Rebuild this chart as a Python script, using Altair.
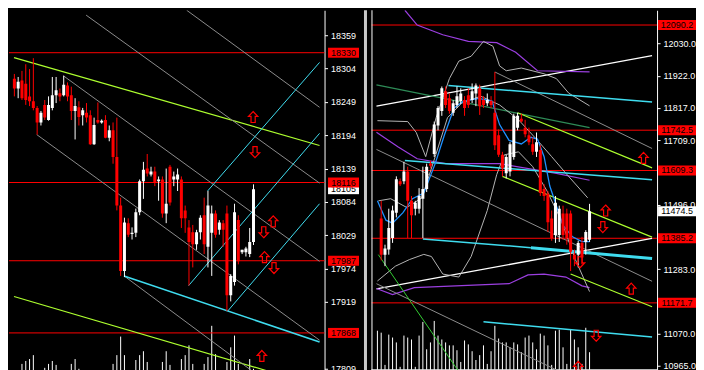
import altair as alt
import pandas as pd

FONT = "Liberation Sans"
W1, W2, H = 316, 286, 362
CY = "#3fdcef"
GY = "#adff2f"
PU = "#9b3fe0"
BG = "#b4b4b4"
GR = "#8c8c8c"

# ---------------- left panel ----------------
L_open = [18287,18271,18284,18279,18258,18250,18239,18215,18244,18219,18239,18260,18263,18260,18276,18260,
          18234,18240,18227,18231,18227,18179,18219,18215,18219,18190,18202,18158,18078,17970,18049,18031,
          18033,18067,18118,18139,18129,18134,18118,18121,18065,18142,18121,18121,18121,18070,18042,18034,
          18014,18034,18062,18010,18033,18065,18038,18049,18065,17930,17952,18054,18001,18001,17998,18018]
L_high = [18295,18290,18300,18311,18303,18321,18242,18234,18252,18258,18290,18290,18271,18292,18281,18274,
          18255,18250,18239,18247,18235,18223,18248,18220,18227,18210,18215,18223,18091,18058,18057,18042,
          18073,18121,18150,18163,18142,18142,18126,18126,18139,18145,18134,18139,18126,18078,18054,18046,
          18038,18062,18091,18102,18078,18070,18054,18054,18078,17965,18081,18062,18005,18010,18041,18113]
L_low = [18258,18255,18252,18244,18242,18235,18195,18210,18219,18218,18235,18247,18250,18258,18250,18219,
         18187,18210,18210,18215,18178,18178,18213,18213,18189,18184,18147,18070,17962,17960,18026,18022,
         18026,18062,18089,18126,18126,18110,18086,18058,18049,18078,18110,18102,18041,18033,17946,17976,
         18005,18022,17998,17976,17962,18025,18030,18010,17904,17920,17946,17981,17998,17994,17993,18013]
L_close = [18271,18282,18255,18252,18250,18239,18215,18231,18223,18244,18260,18268,18258,18277,18258,18234,
           18242,18224,18235,18223,18179,18211,18215,18218,18190,18202,18158,18078,17970,18050,18030,18033,
           18067,18118,18137,18131,18134,18115,18121,18065,18081,18083,18126,18129,18057,18057,18018,18014,
           18034,18058,18014,18078,18065,18030,18050,18038,17930,17962,18067,17986,18005,18007,18018,18105]
L_vol_idx = [2,3,4,5,8,9,10,11,15,16,17,26,27,28,29,32,33,34,35,39,40,41,44,45,46,47,50,51,52,53,56,57,58,59,62,63]
L_vol = [8,11,13,17,4,8,11,7,8,13,3,8,17,36,17,12,17,21,10,10,21,7,13,17,27,8,8,15,47,18,10,25,37,8,13,3]
L_levels = [18330, 18116, 17987, 17868]
L_level_labels = ["18330", "18116", "17987", "17868"]
L_last = [18105]
L_last_label = ["18105"]
L_ticks = [18359, 18304, 18249, 18194, 18139, 18084, 18029, 17974, 17919, 17809]
L_xdom = [-0.1, 80.4]
L_ydom = [17804, 18400]
L_lines = [
    ("g1", [-0.1, 80.4], [18322, 18177], GY, 1.2),
    ("g2", [-0.1, 67.4], [17928, 17804], GY, 1.2),
    ("s1", [18.9, 80.4], [18392, 18115], GR, 1),
    ("s2", [45.4, 80.4], [18400, 18240], GR, 1),
    ("s3", [12.9, 80.4], [18292, 17986], GR, 1),
    ("s4", [5.9, 80.4], [18195, 17856], GR, 1),
    ("s5", [28.9, 62.9], [17962, 17804], GR, 1),
    ("c1", [28.9, 80.4], [17962, 17853], CY, 1.6),
    ("c2", [45.9, 80.4], [17946, 18197], CY, 1),
    ("c3", [50.9, 80.4], [18102, 18314], CY, 1),
    ("c4", [56.2, 80.4], [17904, 18081], CY, 1),
]
L_up_idx = [62.9, 68.2, 65.9, 65.2]
L_up_px = [18224, 18052, 17993, 17830]
L_dn_idx = [63.4, 65.7, 68.4]
L_dn_px = [18166, 18034, 17975]

# ---------------- right panel ----------------
R_open = [11451,11331,11348,11386,11470,11574,11574,11606,11509,11483,
          11483,11516,11548,11632,11664,11758,11806,11871,11848,11800,
          11826,11839,11842,11858,11842,11864,11881,11842,11832,11839,
          11800,11726,11661,11600,11606,11654,11751,11780,11751,11726,
          11696,11671,11677,11548,11532,11451,11396,11396,11467,11467,
          11467,11331,11331,11370,11373,11380]
R_high = [11509,11364,11483,11493,11590,11583,11638,11622,11525,11509,
          11551,11622,11632,11642,11771,11822,11887,11887,11864,11842,
          11887,11881,11855,11881,11897,11897,11893,11855,11864,11855,
          11935,11745,11671,11661,11703,11797,11800,11797,11777,11751,
          11719,11735,11693,11564,11541,11477,11525,11493,11493,11483,
          11477,11348,11377,11390,11412,11499]
R_low = [11312,11293,11331,11370,11454,11558,11564,11386,11386,11461,
         11467,11386,11538,11616,11654,11742,11790,11816,11797,11790,
         11816,11829,11790,11816,11832,11822,11793,11816,11822,11816,
         11677,11654,11590,11583,11590,11645,11742,11768,11719,11693,
         11661,11654,11525,11509,11406,11377,11370,11373,11380,11364,
         11277,11293,11289,11299,11331,11373]
R_close = [11331,11351,11419,11477,11580,11564,11606,11509,11461,11503,
           11525,11548,11622,11625,11761,11816,11881,11826,11806,11832,
           11855,11864,11816,11826,11871,11890,11822,11826,11842,11826,
           11693,11661,11616,11654,11696,11790,11790,11771,11729,11703,
           11671,11703,11535,11525,11438,11386,11503,11483,11396,11386,
           11341,11315,11370,11322,11406,11474.5]
R_vol = [40,38,5,36,33,28,3,35,33,31,3,35,49,21,28,50,35,31,28,25,25,20,8,30,26,19,10,15,25,6,
         19,45,32,28,28,23,28,26,18,33,35,28,21,37,35,25,5,40,41,23,6,41,31,23,6,43,18]
R_levels = [12090.2, 11742.5, 11609.3, 11385.2, 11171.7]
R_level_labels = ["12090.2", "11742.5", "11609.3", "11385.2", "11171.7"]
R_last = [11474.5]
R_last_label = ["11474.5"]
R_ticks = [12030, 11922, 11817, 11709, 11496, 11283, 11070, 10965]
R_xdom = [-1.25, 71.5]
R_ydom = [10944, 12139]
R_lines = [
    ("w1", [-1.25, 71.5], [11822, 11989], "#ffffff", 1.3),
    ("w2", [-1.25, 71.5], [11218, 11385], "#ffffff", 1.3),
    ("sea", [-1.25, 55], [11892, 11751], "#2e8b57", 1.3),
    ("pTop", [6.25, 9.5, 16.25, 23, 30.5, 35.5, 41.25, 55],
     [12139, 12090, 12058, 12036, 12032, 12000, 11939, 11935], PU, 1.2),
    ("pMid", [-1.25, 4.5, 9.5, 17, 31.25, 46.25, 55],
     [11736, 11687, 11648, 11632, 11632, 11600, 11577], PU, 1.2),
    ("pLow", [-1.25, 3, 8.75, 33.75, 38.75, 43, 48.75, 53, 55],
     [11219, 11199, 11222, 11235, 11264, 11267, 11257, 11228, 11222], PU, 1.2),
    ("bUp", [-1, 7, 9.25, 11.75, 14.5, 18, 20.5, 23.75, 27, 29.5, 31.25, 33, 37, 43, 46.25, 49.5, 55],
     [11774, 11771, 11735, 11655, 11784, 11913, 11971, 11987, 12036, 12020, 11955, 11939, 11948, 11929, 11913, 11865, 11823], BG, 1),
    ("bLo", [-1, 3.75, 7.5, 11.25, 13.25, 16.25, 20.5, 23.75, 28, 30.5, 32.5, 36.25, 40, 43.75, 47.5, 51.25, 55],
     [11244, 11293, 11315, 11332, 11325, 11267, 11257, 11325, 11477, 11596, 11661, 11671, 11622, 11542, 11445, 11315, 11209], BG, 1),
    ("bMid", [-0.75, 2.5, 6.75, 10.75, 14.25, 17.5, 21.25, 26.25, 31.25, 36.25, 41.25, 45, 48.75, 54.5],
     [11509, 11516, 11487, 11519, 11655, 11784, 11832, 11855, 11826, 11777, 11709, 11655, 11600, 11519], BG, 1),
    ("rg1", [-1.25, 46.25], [11235, 10950], GR, 1),
    ("rg2", [-1.25, 71.5], [11679, 11243], GR, 1),
    ("rg3", [30, 71.5], [11935, 11682], GR, 1),
    ("cTop", [17.75, 71.5], [11890, 11836], CY, 1.5),
    ("cMid", [6.25, 71.5], [11642, 11579], CY, 1.5),
    ("cLow1", [11, 39.5], [11383, 11354], CY, 1.5),
    ("cLow2", [39.5, 71.5], [11354, 11318], CY, 3),
    ("cBot", [27, 71.5], [11109, 11059], CY, 1.5),
    ("gR1", [36, 71.5], [11800, 11618], GY, 1.2),
    ("gR2", [32, 71.5], [11590, 11389], GY, 1.2),
    ("gR3", [50, 71.5], [11267, 11159], GY, 1.2),
    ("gSteep", [-0.75, 20.5], [11331, 10944], "#33cc33", 1),
    ("ma", [-1, 1.25, 3, 5.75, 8.25, 11.25, 14.25, 16.75, 19.25, 21.75, 25.75, 29.25, 31.25, 33.75, 37,
            39.5, 41.25, 43, 44.5, 46.25, 48, 50.5, 53, 55],
     [11509, 11445, 11435, 11470, 11516, 11535, 11632, 11729, 11816, 11839, 11848, 11839, 11761, 11709,
      11697, 11719, 11713, 11655, 11558, 11493, 11428, 11390, 11374, 11374], "#1e90ff", 1.3),
]
R_up_idx = [59.25, 69.25, 66, 52]
R_up_px = [11477, 11651, 11218.5, 10960]
R_dn_idx = [58.5, 52.5, 56.75]
R_dn_px = [11422, 11306, 11063]

UP = "M 0 -1 L 0.85 -0.1 L 0.38 -0.1 L 0.38 1 L -0.38 1 L -0.38 -0.1 L -0.85 -0.1 Z"
DN = "M 0 1 L 0.85 0.1 L 0.38 0.1 L 0.38 -1 L -0.38 -1 L -0.38 0.1 L -0.85 0.1 Z"


def box(hw):
    return f"M -{hw} -1 L {hw} -1 L {hw} 1 L -{hw} 1 Z"


def panel(o, h, l, c, start, vidx, vol, vdom, levels, lablist, last, lastlab, ticks, fmt,
          xdom, ydom, lines, up_i, up_p, dn_i, dn_p, W, box_cx, box_hw, frame):
    xs = alt.Scale(domain=xdom, nice=False, zero=False)
    ys = alt.Scale(domain=ydom, nice=False, zero=False)
    axis = alt.Axis(orient="right", values=ticks, format=fmt, labelColor="white", domainColor="white",
                    tickColor="white", tickSize=3, labelPadding=3, labelFont=FONT, labelFontSize=9,
                    grid=False, title=None, labelFlush=False, labelOverlap=False)
    X = lambda f: alt.X(f, type="quantitative", scale=xs, axis=None)
    Y = lambda f: alt.Y(f, type="quantitative", scale=ys, axis=axis)

    cd = pd.DataFrame({"i": list(range(start, start + len(o))), "o": o, "h": h, "l": l, "c": c})
    cd["dir"] = ["up" if cc >= oo else "down" for oo, cc in zip(o, c)]
    col = alt.Color("dir:N", scale=alt.Scale(domain=["up", "down"], range=["#ffffff", "#ff0000"]), legend=None)

    lv = pd.DataFrame({"p": levels, "t": lablist})
    hl = alt.Chart(lv).mark_rule(color="#ff0000", strokeWidth=1).encode(y=Y("p"))

    rows = []
    for name, xx, yy, cl, w in lines:
        for k, (a, b) in enumerate(zip(xx, yy)):
            rows.append({"name": name, "i": a, "p": b, "col": cl, "w": w, "k": k})
    ln = alt.Chart(pd.DataFrame(rows)).mark_line(clip=True).encode(
        x=X("i"), y=Y("p"), detail="name:N", order="k:Q",
        color=alt.Color("col:N", scale=None), strokeWidth=alt.StrokeWidth("w:Q", scale=None))

    wick = alt.Chart(cd).mark_rule(strokeWidth=1, clip=True).encode(x=X("i"), y=Y("l"), y2="h", color=col)
    body = alt.Chart(cd).mark_bar(size=3, clip=True).encode(x=X("i"), y=Y("o"), y2="c", color=col)

    upm = alt.Chart(pd.DataFrame({"i": up_i, "p": up_p})).mark_point(
        shape=UP, size=121, filled=False, color="#ff0000", strokeWidth=1.2, opacity=1, clip=True
    ).encode(x=X("i"), y=Y("p"))
    dnm = alt.Chart(pd.DataFrame({"i": dn_i, "p": dn_p})).mark_point(
        shape=DN, size=121, filled=False, color="#ff0000", strokeWidth=1.2, opacity=1, clip=True
    ).encode(x=X("i"), y=Y("p"))

    ld = pd.DataFrame({"p": last, "t": lastlab})
    lbox = alt.Chart(ld).mark_point(shape=box(box_hw), size=100, filled=True, color="#ffffff",
                                    opacity=1, strokeWidth=0).encode(x=alt.value(W + box_cx), y=Y("p"))
    ltxt = alt.Chart(ld).mark_text(font=FONT, fontSize=9, color="black", align="center",
                                   baseline="middle").encode(x=alt.value(W + box_cx), y=Y("p"), text="t:N")
    rbox = alt.Chart(lv).mark_point(shape=box(box_hw), size=100, filled=True, color="#ff0000",
                                    opacity=1, strokeWidth=0).encode(x=alt.value(W + box_cx), y=Y("p"))
    rtxt = alt.Chart(lv).mark_text(font=FONT, fontSize=9, color="black", align="center",
                                   baseline="middle").encode(x=alt.value(W + box_cx), y=Y("p"), text="t:N")

    price_layers = [hl, ln, wick, body, upm, dnm, lbox, ltxt, rbox, rtxt]
    if frame:
        fr = pd.DataFrame({"z": [0]})
        price_layers.append(alt.Chart(fr).mark_rule(color="#c8c8c8", strokeWidth=3).encode(
            x=alt.value(-6), y=alt.value(0), y2=alt.value(H)))
        price_layers.append(alt.Chart(fr).mark_rule(color="#ffffff", strokeWidth=1).encode(
            x=alt.value(0.5), y=alt.value(0), y2=alt.value(H)))
    price = alt.layer(*price_layers)

    vs = alt.Scale(domain=vdom, nice=False, zero=False)
    vd = pd.DataFrame({"i": vidx, "v": vol, "z": [0] * len(vol)})
    vb = alt.Chart(vd).mark_rule(color="#ffffff", strokeWidth=1, clip=True).encode(
        x=X("i"), y=alt.Y("z:Q", scale=vs, axis=None), y2="v")
    vlayers = [vb]
    if frame:
        vlayers.append(alt.Chart(pd.DataFrame({"z": [0]})).mark_rule(color="#ffffff").encode(
            y=alt.Y("z:Q", scale=vs, axis=None)))
    volume = alt.layer(*vlayers)

    return alt.layer(volume, price).resolve_scale(y="independent").properties(width=W, height=H)


left = panel(L_open, L_high, L_low, L_close, 0, L_vol_idx, L_vol, [0, 370], L_levels, L_level_labels,
             L_last, L_last_label, L_ticks, "d", L_xdom, L_ydom, L_lines,
             L_up_idx, L_up_px, L_dn_idx, L_dn_px, W1, 19, 3.1, False)
right = panel(R_open, R_high, R_low, R_close, 0, list(range(-1, 56)), R_vol, [-2, 368], R_levels, R_level_labels,
              R_last, R_last_label, R_ticks, ".1f", R_xdom, R_ydom, R_lines,
              R_up_idx, R_up_px, R_dn_idx, R_dn_px, W2, 20, 3.8, True)

chart = alt.hconcat(left, right, spacing=4).properties(background="black", padding=0).configure_view(stroke=None)
chart.save("out.html", embed_options={"renderer": "svg", "actions": False})
